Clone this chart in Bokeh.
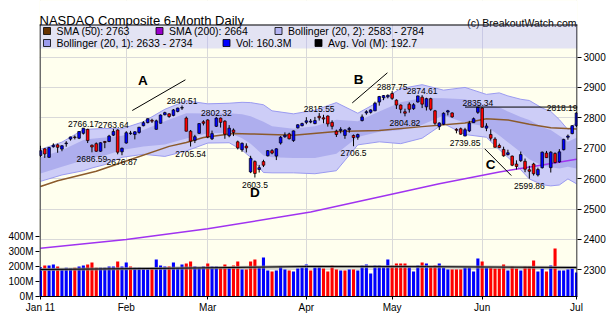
from bokeh.plotting import figure
from bokeh.models import Range1d, LinearAxis, FixedTicker, Label, Arrow, ColumnDataSource
from bokeh.core.properties import value
from bokeh.embed import file_html
from bokeh.resources import INLINE

# ---------------- data ----------------
month_ticks = [0, 20, 39, 62, 82, 103, 125]
month_labels = ["Jan 11", "Feb", "Mar", "Apr", "May", "Jun", "Jul"]
price_ticks = [2300, 2400, 2500, 2600, 2700, 2800, 2900, 3000]
vol_ticks = [0, 100, 200, 300, 400]
vol_tick_labels = ["0M", "100M", "200M", "300M", "400M"]

prev_close = 2652.87
opens = [2676, 2698, 2670, 2705, 2711, 2697, 2715, 2730, 2737, 2733,
         2749, 2762, 2710, 2715, 2690, 2722, 2722, 2743, 2760, 2688,
         2717, 2748, 2745, 2752, 2774, 2784, 2792, 2762, 2782, 2810,
         2813, 2808, 2821, 2832, 2799, 2756, 2726, 2749, 2787, 2793,
         2731, 2772, 2799, 2789, 2741, 2760, 2721, 2695, 2707, 2622,
         2656, 2630, 2656, 2675, 2692, 2674, 2717, 2738, 2747, 2725,
         2767, 2774, 2785, 2786, 2781, 2805, 2800, 2806, 2785, 2756,
         2758, 2742, 2761, 2742, 2736, 2791, 2816, 2818, 2823, 2852,
         2866, 2869, 2880, 2858, 2842, 2820, 2845, 2830, 2852, 2868,
         2836, 2863, 2823, 2771, 2779, 2819, 2816, 2762, 2764, 2740,
         2757, 2784, 2818, 2832, 2766, 2745, 2730, 2709, 2696, 2679,
         2674, 2648, 2659, 2657, 2629, 2648, 2612, 2636, 2684, 2636,
         2683, 2655, 2695, 2736, 2748, 2774]
highs = [2708, 2700, 2704, 2716, 2715, 2710, 2723, 2738, 2742, 2756,
         2766.17, 2764, 2712, 2719, 2719, 2724, 2744, 2763.64, 2762, 2702,
         2756, 2757, 2756, 2770, 2789, 2798, 2797, 2794, 2811, 2820,
         2815, 2829, 2833, 2840.51, 2804, 2760, 2744, 2782, 2792, 2795,
         2758, 2802.32, 2801, 2792, 2776, 2765, 2725, 2719, 2716, 2675,
         2660, 2645, 2662, 2694, 2697, 2700, 2740, 2752, 2751, 2758,
         2779, 2784, 2802, 2796, 2803, 2815.55, 2810, 2808, 2792, 2761,
         2769, 2762, 2770, 2745, 2748, 2811, 2825, 2828, 2853, 2872,
         2875, 2877, 2887.75, 2861, 2844, 2830, 2851, 2848, 2873, 2874.61,
         2866, 2866, 2826, 2785, 2818, 2826, 2818, 2766, 2768, 2767,
         2790, 2801, 2835.34, 2835, 2782, 2762, 2736, 2715, 2705, 2695,
         2676, 2660, 2689, 2666, 2642, 2652, 2636, 2689, 2691, 2690,
         2686, 2697, 2731, 2745, 2776, 2818.19]
lows = [2671, 2668, 2668, 2702, 2685, 2690, 2705, 2725, 2729, 2730,
        2745, 2717, 2686.59, 2688, 2688, 2700, 2720, 2740, 2680, 2676.87,
        2715, 2744, 2729, 2748, 2772, 2782, 2783, 2761, 2781, 2808,
        2800, 2805, 2818, 2826, 2755, 2705.54, 2717, 2747, 2775, 2733,
        2727, 2770, 2768, 2731, 2736, 2740, 2696, 2688, 2686, 2618,
        2603.5, 2620, 2638, 2673, 2680, 2661, 2712, 2734, 2729, 2721,
        2765, 2772, 2779, 2782, 2779, 2791, 2782, 2771, 2762, 2737,
        2749, 2731, 2751, 2706.5, 2728, 2788, 2810, 2814, 2822, 2840,
        2858, 2864, 2859, 2829, 2815, 2804.82, 2817, 2826, 2850, 2832,
        2824, 2823, 2777, 2760, 2776, 2808, 2800, 2749, 2744, 2739.85,
        2753, 2783, 2813, 2768, 2756, 2725, 2702, 2700, 2672, 2676,
        2641, 2630, 2655, 2621, 2599.86, 2610, 2607, 2633, 2668, 2620,
        2650, 2652, 2693, 2728, 2746, 2770]
closes = [2692, 2681, 2702, 2710, 2703, 2708, 2717, 2737, 2735, 2755,
          2766, 2725, 2704, 2690, 2718, 2719, 2740, 2755, 2687, 2700,
          2751, 2750, 2754, 2769, 2784, 2797, 2789, 2790, 2809, 2817,
          2804, 2826, 2832, 2834, 2756, 2723, 2738, 2781, 2782, 2737,
          2748, 2799, 2785, 2746, 2766, 2752, 2701, 2716, 2701, 2667,
          2617, 2636, 2644, 2692, 2684, 2698, 2736, 2743, 2731, 2757,
          2777, 2781, 2790, 2789, 2791, 2800, 2796, 2780, 2772, 2745,
          2762, 2760, 2765, 2735, 2745, 2803, 2820, 2826, 2848, 2870,
          2873, 2874, 2864, 2842, 2828, 2815, 2828, 2843, 2872, 2845,
          2863, 2828, 2782, 2783, 2815, 2823, 2803, 2759, 2746, 2761,
          2782, 2797, 2835, 2769, 2773, 2733, 2703, 2702, 2675, 2685,
          2644, 2640, 2679, 2631, 2624, 2616, 2630, 2687, 2669, 2687,
          2653, 2688, 2729, 2740, 2774, 2816]
volumes = [195, 207, 207, 213, 200, 184, 191, 187, 191, 200,
           207, 213, 227, 191, 191, 191, 200, 200, 233, 200,
           227, 200, 191, 191, 184, 182, 191, 247, 207, 200,
           200, 227, 191, 213, 220, 233, 200, 191, 200, 220,
           200, 200, 191, 213, 191, 207, 233, 180, 180, 233,
           247, 195, 260, 173, 167, 173, 200, 180, 173, 167,
           187, 195, 213, 173, 195, 200, 187, 167, 207, 180,
           173, 173, 180, 180, 173, 207, 213, 153, 207, 207,
           200, 247, 207, 220, 220, 220, 200, 167, 207, 227,
           220, 200, 207, 220, 193, 180, 180, 180, 180, 193,
           193, 167, 253, 233, 193, 191, 187, 187, 213, 173,
           200, 187, 173, 200, 200, 240, 167, 187, 167, 207,
           320, 173, 173, 180, 187, 160]

bb_idx = [0, 5, 10, 12, 15, 19, 24, 29, 34, 39, 44, 47, 49, 52, 54, 59, 64, 69, 74,
          79, 84, 89, 94, 99, 104, 107, 109, 112, 114, 117, 119, 121, 123, 125]
bb2_upper = [2696, 2720, 2761, 2763, 2765, 2764, 2787, 2828, 2856, 2846, 2848, 2851, 2850,
             2843, 2823, 2813, 2825, 2850, 2815, 2854, 2896, 2909, 2891, 2900, 2877, 2882,
             2872, 2861, 2857, 2832, 2821, 2794, 2761, 2784]
bb1_upper = [2670, 2693, 2727, 2731, 2735, 2741, 2760, 2789, 2815, 2814, 2815, 2812, 2805,
             2787, 2772, 2764, 2772, 2794, 2789, 2821, 2851, 2865, 2864, 2861, 2841, 2835,
             2821, 2803, 2793, 2769, 2760, 2741, 2721, 2734]
bb1_lower = [2617, 2639, 2660, 2667, 2676, 2694, 2706, 2712, 2732, 2749, 2751, 2733, 2715,
             2676, 2670, 2668, 2668, 2682, 2737, 2754, 2760, 2777, 2808, 2784, 2771, 2742,
             2720, 2687, 2664, 2643, 2637, 2633, 2639, 2633]
bb2_lower = [2591, 2612, 2626, 2635, 2646, 2670, 2680, 2673, 2691, 2717, 2718, 2694, 2670,
             2620, 2619, 2619, 2616, 2626, 2711, 2721, 2715, 2733, 2781, 2745, 2736, 2695,
             2670, 2629, 2599, 2580, 2576, 2579, 2599, 2583]

sma50_idx = [0, 4, 13, 20, 30, 34, 38, 45, 49, 59, 69, 79, 89, 99, 104, 109, 114, 119, 125]
sma50 = [2574, 2593, 2624, 2658, 2706, 2719, 2735, 2748, 2747, 2743, 2755, 2758, 2771,
         2783, 2797, 2793, 2779, 2767, 2763]
sma200_idx = [0, 20, 39, 63, 84, 93, 107, 117, 125]
sma200 = [2371, 2400, 2435, 2490, 2555, 2583, 2622, 2645, 2664]
avgvol_idx = [0, 30, 62, 90, 125]
avgvol = [180, 188, 200, 199, 193]

peak_idx = [10, 17, 33, 41, 65, 82, 89, 102, 125]
peak_val = [2766.17, 2763.64, 2840.51, 2802.32, 2815.55, 2887.75, 2874.61, 2835.34, 2818.19]
trough_idx = [12, 19, 35, 50, 73, 85, 99, 114]
trough_val = [2686.59, 2676.87, 2705.54, 2603.5, 2706.5, 2804.82, 2739.85, 2599.86]

trend_x = [[21.4, 33.8], [72.7, 80.9], [103.6, 109.8]]
trend_y = [[2824, 2925], [2849, 2948], [2698, 2610]]
letters = ["A", "B", "C", "D"]
letter_x = [23.9, 74.2, 105.0, 50.0]
letter_y = [2923, 2926, 2646, 2555]
resist_start = 99
resist_level = 2835.34

legend_row1 = [("SMA (50): 2763", "#663300"), ("SMA (200): 2664", "#9900CC"),
               ("Bollinger (20, 2): 2583 - 2784", "#B4B4F4")]
legend_row2 = [("Bollinger (20, 1): 2633 - 2734", "#9C9CEE"), ("Vol: 160.3M", "#0000FF"),
               ("Avg. Vol (M): 192.7", "#000000")]

title_text = "NASDAQ Composite 6-Month Daily"
credit_text = "(c) BreakoutWatch.com"

# ---------------- layout ----------------
W, H = 615, 317
FL, FR, FT, FB = 39, 577, 24, 296   # chart box edges in page pixels
PX_PER_IDX = 4.288
PX_PER_PT = 0.304
X0 = -0.233
X1 = X0 + (FR - FL) / PX_PER_IDX
Y0 = 2212.2                          # price at FB
YBOX = Y0 + (FB - FT) / PX_PER_PT    # price at FT
YTOP = Y0 + FB / PX_PER_PT           # price at page top (frame top)
VMAX = FB / 0.15
FONT = "Liberation Sans"


def dx(px):
    return X0 + (px - FL) / PX_PER_IDX


def dy(py):
    return Y0 + (FB - py) / PX_PER_PT


p = figure(width=W, height=H, x_range=Range1d(X0, X1), y_range=Range1d(Y0, YTOP),
           output_backend="svg", toolbar_location=None, y_axis_location="right",
           title_location=None,
           min_border_left=FL, min_border_right=W - FR, min_border_top=0,
           min_border_bottom=H - FB, background_fill_color="#FFFFEE",
           border_fill_color="white", outline_line_color=None)
p.extra_y_ranges = {"vol": Range1d(0, VMAX)}

p.xgrid.ticker = FixedTicker(ticks=month_ticks)
p.ygrid.ticker = FixedTicker(ticks=price_ticks)
p.xgrid.grid_line_color = "#D9D9D9"
p.ygrid.grid_line_color = "#D9D9D9"

xa = p.xaxis[0]
xa.ticker = FixedTicker(ticks=month_ticks)
xa.major_label_overrides = {t: l for t, l in zip(month_ticks, month_labels)}
ya = p.yaxis[0]
ya.ticker = FixedTicker(ticks=price_ticks)
va = LinearAxis(y_range_name="vol", ticker=FixedTicker(ticks=vol_ticks),
                major_label_overrides={t: l for t, l in zip(vol_ticks, vol_tick_labels)})
p.add_layout(va, "left")
for ax in (xa, ya, va):
    ax.major_label_text_font = FONT
    ax.major_label_text_font_size = "10px"
    ax.major_label_text_color = "black"
    ax.axis_line_color = "black"
    ax.major_tick_line_color = "black"
    ax.major_tick_out = 4
    ax.major_tick_in = 0
    ax.minor_tick_out = 0
    ax.minor_tick_in = 0
    ax.major_label_standoff = 2
xa.major_tick_out = 3
ya.axis_line_color = None
va.axis_line_color = None

# white header area above the chart box (covers grid/background)
p.quad(left=X0, right=X1, bottom=YBOX, top=YTOP, fill_color="white", line_color=None)
p.text(x=[dx(39)], y=[dy(20)], text=[title_text], text_font=value(FONT),
       text_font_size="13px", text_baseline="alphabetic", text_color="black")
p.text(x=[dx(576)], y=[dy(22.5)], text=[credit_text], text_font=value(FONT),
       text_font_size="10.5px", text_baseline="alphabetic", text_align="right",
       text_color="black")

# legend band
p.quad(left=X0, right=X1, bottom=dy(48), top=YBOX, fill_color="#AAAAFF", fill_alpha=0.33,
       line_color=None)

# bollinger bands
p.varea(x=bb_idx, y1=bb2_lower, y2=bb2_upper, fill_color="#CDCDF7")
p.varea(x=bb_idx, y1=bb1_lower, y2=bb1_upper, fill_color="#AEAEEE")
for arr in (bb2_upper, bb2_lower):
    p.line(bb_idx, arr, line_color="#9A9AF0", line_width=1)

# moving averages
p.line(sma200_idx, sma200, line_color="#A033F0", line_width=1.5)
p.line(sma50_idx, sma50, line_color="#8B5A2B", line_width=1.5)

# volume
vcol = []
pc = prev_close
for c in closes:
    vcol.append("#0000FF" if c >= pc else "#FF0000")
    pc = c
idx = list(range(len(closes)))
vsrc = ColumnDataSource(dict(x=idx, v=volumes, c=vcol))
p.vbar(x="x", top="v", bottom=0, width=0.72, source=vsrc, y_range_name="vol",
       fill_color="c", line_color=None)
p.line(avgvol_idx, avgvol, y_range_name="vol", line_color="#8A8A8A", line_width=3,
       line_alpha=0.8)
p.line(avgvol_idx, avgvol, y_range_name="vol", line_color="black", line_width=1)

# candles
ccol = ["#0000FF" if c >= o else "#FF0000" for o, c in zip(opens, closes)]
csrc = ColumnDataSource(dict(x=idx, o=opens, h=highs, l=lows, c=closes, col=ccol))
p.segment(x0="x", y0="l", x1="x", y1="h", source=csrc, line_color="black", line_width=1)
p.vbar(x="x", top="o", bottom="c", width=0.62, source=csrc, fill_color="col",
       line_color="black", line_width=0.7)

# trend lines
for tx, ty in zip(trend_x, trend_y):
    p.line(tx, ty, line_color="black", line_width=1)
p.add_layout(Arrow(end=None, x_start=resist_start, y_start=resist_level, x_end=X1,
                   y_end=resist_level, line_color="black", line_width=1))

# chart box border (top, left, right)
p.segment(x0=[dx(FL), dx(FL + 0.5), dx(FR - 0.5)],
          y0=[dy(FT + 0.5), dy(FT), dy(FT)],
          x1=[dx(FR), dx(FL + 0.5), dx(FR - 0.5)],
          y1=[dy(FT + 0.5), Y0, Y0], line_color="black", line_width=1)

# price labels
for i, v in zip(peak_idx, peak_val):
    edge = i >= len(closes) - 2
    p.add_layout(Label(x=i, y=v, text=str(v), text_align="right" if edge else "center",
                       x_offset=1 if edge else 0, text_baseline="alphabetic",
                       y_offset=4, text_font=FONT, text_font_size="8.5px",
                       text_color="black"))
for i, v in zip(trough_idx, trough_val):
    p.add_layout(Label(x=i, y=v, text=str(v), text_align="center", text_baseline="alphabetic",
                       y_offset=-7, text_font=FONT, text_font_size="8.5px", text_color="black"))
for t, lx, ly in zip(letters, letter_x, letter_y):
    p.add_layout(Label(x=lx, y=ly, text=t, text_align="center", text_baseline="middle",
                       text_font=FONT, text_font_size="13.5px", text_font_style="bold",
                       text_color="black"))


def legend_row(items, py, xs):
    for (txt, col), sx in zip(items, xs):
        p.scatter([dx(sx)], [dy(py)], marker="square", size=7, fill_color=col,
                  line_color="black", line_width=0.8)
        p.add_layout(Label(x=dx(sx + 9.5), y=dy(py), text=txt, text_baseline="middle",
                           text_font=FONT, text_font_size="10.5px", text_color="black"))


legend_row(legend_row1, 30.5, [46.5, 159, 278])
legend_row(legend_row2, 42.5, [46.5, 226, 318])

open("out.html", "w").write(file_html(p, INLINE))
